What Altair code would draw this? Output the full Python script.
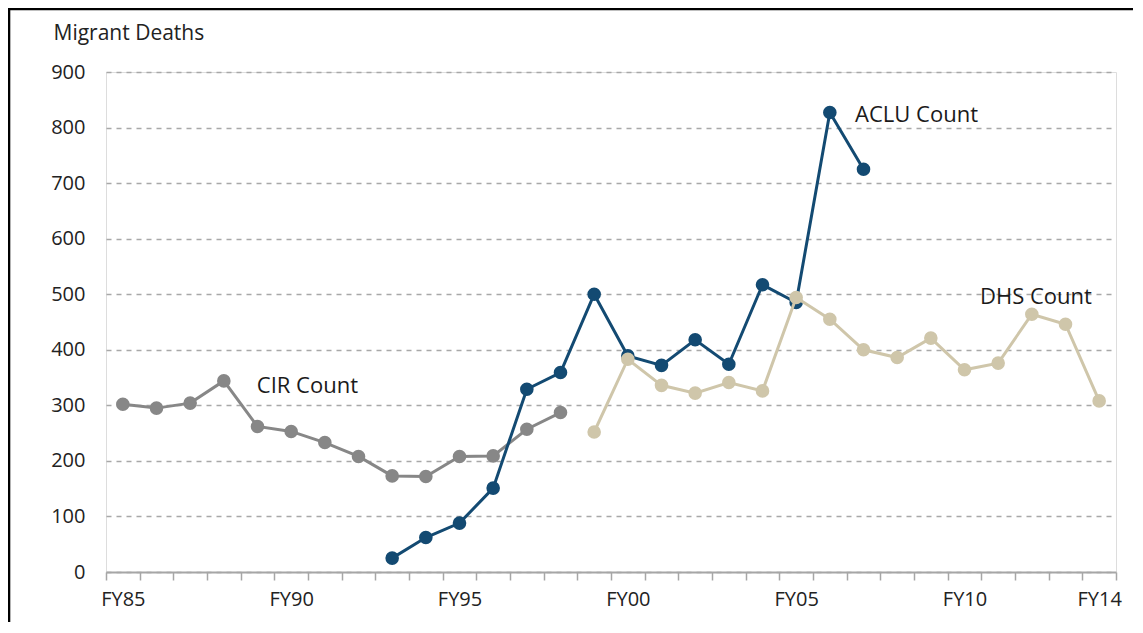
import altair as alt
import pandas as pd

# ---- data ----
cir_years = list(range(1985, 1999))
cir_values = [302, 295, 304, 344, 262, 253, 233, 208, 173, 172, 208, 209, 257, 287]

aclu_years = list(range(1993, 2008))
aclu_values = [25, 62, 88, 151, 329, 359, 500, 389, 372, 418, 374, 517, 485, 827, 725]

dhs_years = list(range(1999, 2015))
dhs_values = [252, 383, 336, 322, 341, 326, 494, 455, 400, 386, 421, 364, 376, 464, 446, 308]

series_names = ["CIR Count", "ACLU Count", "DHS Count"]
series_colors = ["#878787", "#134a72", "#cfc6aa"]

label_years = [1985, 1990, 1995, 2000, 2005, 2010, 2014]
y_ticks = [0, 100, 200, 300, 400, 500, 600, 700, 800, 900]

# annotation positions (year, value at text baseline)
ann_text = ["ACLU Count", "DHS Count", "CIR Count"]
ann_x = [2006.75, 2010.46, 1988.98]
ann_y = [810, 482, 322]

FONT = "Open Sans"
W, H = 1010, 500

frames = {
    "CIR Count": pd.DataFrame({"year": cir_years, "value": cir_values}),
    "ACLU Count": pd.DataFrame({"year": aclu_years, "value": aclu_values}),
    "DHS Count": pd.DataFrame({"year": dhs_years, "value": dhs_values}),
}

boundaries = [y - 0.5 for y in range(1985, 2016)]

x_scale = alt.Scale(domain=[1984.5, 2014.5], nice=False, zero=False)
y_scale = alt.Scale(domain=[0, 900], nice=False)

tick_axis = alt.Axis(
    orient="bottom",
    values=boundaries,
    labels=False,
    grid=False,
    tickSize=8,
    tickWidth=1.5,
    tickColor="#a6a6a6",
    domainColor="#a6a6a6",
    domainWidth=2,
    title=None,
)

label_axis = alt.Axis(
    orient="bottom",
    values=label_years,
    labelExpr="'FY' + slice(toString(datum.value), 2)",
    labelFlush=False,
    labelOverlap=False,
    ticks=False,
    tickSize=8,
    domain=False,
    grid=False,
    labelFont=FONT,
    labelFontSize=20,
    labelColor="#222222",
    labelPadding=17,
    title=None,
)

y_axis = alt.Axis(
    values=y_ticks,
    grid=True,
    gridDash=[5, 5],
    gridColor="#a8a8a8",
    gridWidth=1.6,
    ticks=False,
    tickSize=0,
    domain=False,
    labelFont=FONT,
    labelFontSize=20,
    labelColor="#222222",
    labelPadding=21,
    title="Migrant Deaths",
    titleAngle=0,
    titleAlign="left",
    titleBaseline="middle",
    titleX=-53,
    titleY=-39,
    titleFont=FONT,
    titleFontSize=21,
    titleFontWeight="normal",
    titleColor="#222222",
)

layers = []
first = True
for name, color in zip(series_names, series_colors):
    df = frames[name]
    base = alt.Chart(df)
    if first:
        xenc = alt.X("year:Q", scale=x_scale, axis=tick_axis)
        yenc = alt.Y("value:Q", scale=y_scale, axis=y_axis)
        first = False
    else:
        xenc = alt.X("year:Q", scale=x_scale, axis=None)
        yenc = alt.Y("value:Q", scale=y_scale)
    line = base.mark_line(color=color, strokeWidth=3).encode(x=xenc, y=yenc)
    pts = base.mark_point(filled=True, color=color, size=185, opacity=1).encode(
        x=alt.X("year:Q", scale=x_scale, axis=None),
        y=alt.Y("value:Q", scale=y_scale),
    )
    layers += [line, pts]

ann_df = pd.DataFrame({"text": ann_text, "year": ann_x, "value": ann_y})
ann = alt.Chart(ann_df).mark_text(
    align="left", baseline="alphabetic", font=FONT, fontSize=22, color="#1a1a1a"
).encode(
    x=alt.X("year:Q", scale=x_scale, axis=label_axis),
    y=alt.Y("value:Q", scale=y_scale),
    text="text:N",
)

frame = alt.Chart(pd.DataFrame({"k": [0]})).mark_rect(
    fill="transparent", stroke="#000000", strokeWidth=2.6
).encode(
    x=alt.value(-97), x2=alt.value(W + 60), y=alt.value(-63), y2=alt.value(H + 80)
)

chart = alt.layer(frame, *layers, ann).resolve_axis(x="independent").properties(
    width=W,
    height=H,
    padding={"left": 98, "top": 64, "right": 17, "bottom": 50},
    autosize=alt.AutoSizeParams(type="none"),
).configure_view(stroke="transparent", strokeWidth=0).configure(background="white")

chart.save("out.html", embed_options={"renderer": "svg", "actions": False})
